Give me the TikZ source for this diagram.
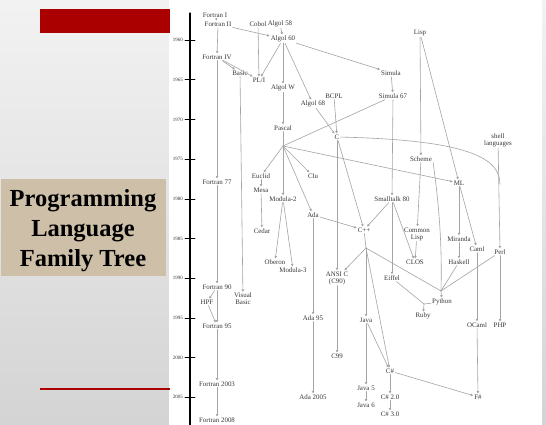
\documentclass[tikz,border=0pt]{standalone}
\usepackage{fontspec}
\setmainfont{Liberation Serif}
\usetikzlibrary{arrows.meta}

\definecolor{barred}{HTML}{AA0000}
\definecolor{titlebg}{HTML}{CEBFA8}
\definecolor{linkgray}{HTML}{A4A4A4}
\definecolor{labelgray}{HTML}{383838}

\tikzset{
  lang/.style={inner sep=1pt, align=center, text=labelgray,
    font=\fontsize{6.9}{7}\selectfont},
  link/.style={draw=linkgray, line width=0.6pt,
    -{Triangle[length=2.4pt,width=2.4pt]}},
  joint/.style={draw=linkgray, line width=0.6pt},
  yearlbl/.style={anchor=east, inner sep=1pt, text=labelgray,
    font=\fontsize{5}{6}\selectfont},
}

\begin{document}
\begin{tikzpicture}[x=1pt,y=-1pt,line cap=round,line join=round]
  \useasboundingbox (0,0) rectangle (546,425);
  % slide background
  \shade[top color=black!5, bottom color=black!17] (0,0) rectangle (546,425);
  \fill[white] (169,0) rectangle (542,425);
  \fill[barred] (40,9) rectangle (170,33);
  \draw[barred, line width=1.5pt, line cap=butt] (40,389) -- (170,389);
  \fill[titlebg] (1,179) rectangle (166,276);
  \node[align=center, font=\fontsize{24.5}{30}\selectfont\bfseries] (title) at (83,231)
    {Programming\\Language\\Family Tree};

  % time axis
  \draw[line width=1.1pt] (190,13) -- (190,425);
  \foreach \yr [count=\k from 0] in {1960,1965,...,2005} {
    \draw[line width=0.6pt] (185,40+39.7*\k) -- (195,40+39.7*\k);
    \node[yearlbl] at (184,40+39.7*\k) {\yr};
  }

  % languages
  \node[lang] (fortranI) at (215,15) {Fortran I};
  \node[lang] (fortranII) at (218,24) {Fortran II};
  \node[lang] (cobol) at (258,24) {Cobol};
  \node[lang] (algolV) at (280,24) {Algol 58};
  \node[lang] (algolLX) at (283,39) {Algol 60};
  \node[lang] (lisp) at (420,33) {Lisp};
  \node[lang] (fortranIV) at (217,57) {Fortran IV};
  \node[lang] (basic) at (240,73) {Basic};
  \node[lang] (pli) at (259,80) {PL/I};
  \node[lang] (simula) at (391,73) {Simula};
  \node[lang] (algolW) at (283,88) {Algol W};
  \node[lang] (bcpl) at (334,96) {BCPL};
  \node[lang] (simulaLXVII) at (393,96) {Simula 67};
  \node[lang] (algolLXVIII) at (313,104) {Algol 68};
  \node[lang] (pascal) at (283,128) {Pascal};
  \node[lang] (c) at (337,137) {C};
  \node[lang] (shell) at (498,140) {shell\\languages};
  \node[lang] (scheme) at (421,159) {Scheme};
  \node[lang] (euclid) at (261,176) {Euclid};
  \node[lang] (clu) at (313,176) {Clu};
  \node[lang] (fortranLXXVII) at (217,182) {Fortran 77};
  \node[lang] (ml) at (459,183) {ML};
  \node[lang] (mesa) at (261,190) {Mesa};
  \node[lang] (modulaII) at (283,199) {Modula-2};
  \node[lang] (smalltalk) at (392,199) {Smalltalk 80};
  \node[lang] (ada) at (313,215) {Ada};
  \node[lang] (cpp) at (364,230) {C++};
  \node[lang] (cedar) at (262,231) {Cedar};
  \node[lang] (commonlisp) at (417,234) {Common\\Lisp};
  \node[lang] (miranda) at (459,239) {Miranda};
  \node[lang] (caml) at (477,249) {Caml};
  \node[lang] (perl) at (500,252) {Perl};
  \node[lang] (oberon) at (275,262) {Oberon};
  \node[lang] (clos) at (415,262) {CLOS};
  \node[lang] (haskell) at (459,262) {Haskell};
  \node[lang] (modulaIII) at (293,270) {Modula-3};
  \node[lang] (ansic) at (337,278) {ANSI C\\(C90)};
  \node[lang] (eiffel) at (392,278) {Eiffel};
  \node[lang] (fortranXC) at (217,287) {Fortran 90};
  \node[lang] (vbasic) at (243,299) {Visual\\Basic};
  \node[lang] (hpf) at (207,302) {HPF};
  \node[lang] (python) at (442,302) {Python};
  \node[lang] (ruby) at (423,316) {Ruby};
  \node[lang] (adaXCV) at (313,318) {Ada 95};
  \node[lang] (java) at (366,320) {Java};
  \node[lang] (ocaml) at (477,325) {OCaml};
  \node[lang] (php) at (500,325) {PHP};
  \node[lang] (fortranXCV) at (217,326) {Fortran 95};
  \node[lang] (cXCIX) at (337,356) {C99};
  \node[lang] (csharp) at (390,371) {C\#};
  \node[lang] (fortranMMIII) at (217,384) {Fortran 2003};
  \node[lang] (javaV) at (366,388) {Java 5};
  \node[lang] (adaMMV) at (313,397) {Ada 2005};
  \node[lang] (csharpII) at (390,397) {C\# 2.0};
  \node[lang] (fsharp) at (478,397) {F\#};
  \node[lang] (javaVI) at (366,405) {Java 6};
  \node[lang] (csharpIII) at (390,414) {C\# 3.0};
  \node[lang] (fortranMMVIII) at (217,420) {Fortran 2008};

  % junctions
  \coordinate (pashub) at (283,146);
  \coordinate (cpphub) at (366,248);
  \coordinate (pyhub) at (441,291);
  \coordinate (rbhub) at (424,304);
  \coordinate (cjoin) at (500,184);

  % Fortran line
  \draw[link] (fortranI) -- (fortranII);
  \draw[link] (fortranII) -- (fortranIV);
  \draw[link] (fortranIV) -- (fortranLXXVII);
  \draw[link] (fortranLXXVII) -- (fortranXC);
  \draw[link] (fortranXC) -- (hpf);
  \draw[link] (fortranXC) -- (fortranXCV);
  \draw[link] (hpf) -- (fortranXCV);
  \draw[link] (fortranXCV) -- (fortranMMIII);
  \draw[link] (fortranMMIII) -- (fortranMMVIII);
  \draw[link] (fortranIV) -- (basic);
  \draw[link] (fortranIV) -- (pli);
  \draw[link] (basic) -- (vbasic);
  \draw[link] (cobol) -- (pli);
  % Algol line
  \draw[link] (fortranII) -- (algolLX);
  \draw[link] (algolV) -- (algolLX);
  \draw[link] (algolLX) -- (pli);
  \draw[link] (algolLX) -- (algolW);
  \draw[link] (algolLX) -- (algolLXVIII);
  \draw[link] (algolLX) -- (simula);
  \draw[link] (simula) -- (simulaLXVII);
  \draw[link] (algolW) -- (pascal);
  \draw[joint] (pascal) -- (pashub);
  \draw[joint] (simulaLXVII) -- (pashub);
  \draw[link] (pashub) -- (euclid);
  \draw[link] (pashub) -- (modulaII);
  \draw[link] (pashub) -- (clu);
  \draw[link] (pashub) -- (ada);
  \draw[link] (pashub) -- (ml);
  \draw[link] (euclid) -- (mesa);
  \draw[link] (mesa) -- (cedar);
  \draw[link] (modulaII) -- (oberon);
  \draw[link] (modulaII) -- (modulaIII);
  \draw[link] (ada) -- (adaXCV);
  \draw[link] (adaXCV) -- (adaMMV);
  \draw[link] (ada) -- (cpp);
  % C line
  \draw[link] (bcpl) -- (c);
  \draw[link] (algolLXVIII) -- (c);
  \draw[link] (c) -- (cpp);
  \draw[link] (c) -- (ansic);
  \draw[joint] (c) .. controls (468,140) and (500,158) .. (cjoin);
  \draw[link] (shell) -- (perl);
  \draw[link] (perl) -- (php);
  \draw[joint] (cpp) -- (cpphub);
  \draw[link] (cpphub) -- (ansic);
  \draw[link] (cpphub) -- (java);
  \draw[link] (cpphub) -- (csharp);
  \draw[joint] (cpphub) -- (pyhub);
  \draw[link] (ansic) -- (cXCIX);
  \draw[link] (java) -- (javaV);
  \draw[link] (javaV) -- (javaVI);
  \draw[link] (java) -- (csharp);
  \draw[link] (csharp) -- (csharpII);
  \draw[link] (csharpII) -- (csharpIII);
  \draw[link] (csharp) -- (fsharp);
  % Smalltalk and Lisp lines
  \draw[link] (simulaLXVII) -- (smalltalk);
  \draw[link] (smalltalk) -- (cpp);
  \draw[link] (smalltalk) -- (clos);
  \draw[link] (smalltalk) -- (eiffel);
  \draw[joint] (eiffel) -- (rbhub);
  \draw[joint] (python) -- (rbhub);
  \draw[link] (rbhub) -- (ruby);
  \draw[link] (lisp) -- (scheme);
  \draw[link] (lisp) -- (ml);
  \draw[link] (scheme) -- (commonlisp);
  \draw[link] (commonlisp) -- (clos);
  \draw[joint] (scheme.south east) .. controls (440,212) and (442,250) .. (pyhub);
  \draw[link] (ml) -- (miranda);
  \draw[link] (ml) -- (caml);
  \draw[link] (miranda) -- (haskell);
  \draw[link] (caml) -- (ocaml);
  \draw[link] (ocaml) -- (fsharp);
  \draw[joint] (haskell) -- (pyhub);
  \draw[joint] (perl) -- (pyhub);
  \draw[link] (pyhub) -- (python);
\end{tikzpicture}
\end{document}
